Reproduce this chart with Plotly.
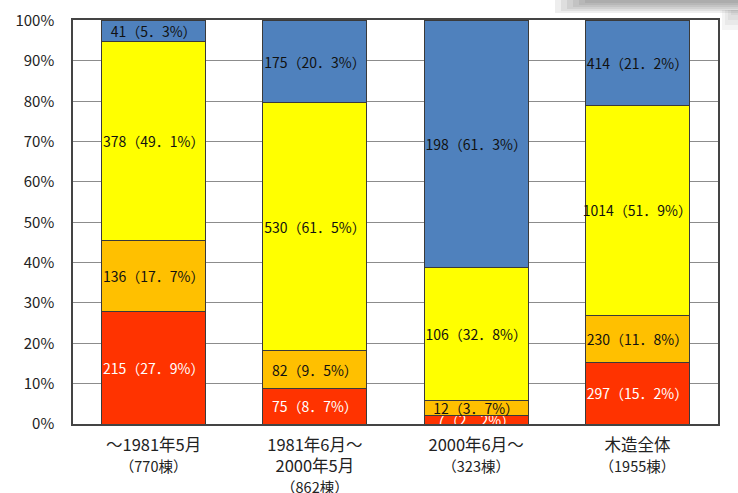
import plotly.graph_objects as go

# Building periods and counts
periods = ["～1981年5月", "1981年6月～<br>2000年5月", "2000年6月～", "木造全体"]
totals = ["770棟", "862棟", "323棟", "1955棟"]

# Damage classes, bottom to top: counts and shares (%)
red_counts = [215, 75, 7, 297]
red_pct = [27.9, 8.7, 2.2, 15.2]
orange_counts = [136, 82, 12, 230]
orange_pct = [17.7, 9.5, 3.7, 11.8]
yellow_counts = [378, 530, 106, 1014]
yellow_pct = [49.1, 61.5, 32.8, 51.9]
blue_counts = [41, 175, 198, 414]
blue_pct = [5.3, 20.3, 61.3, 21.2]

y_ticks = [0, 10, 20, 30, 40, 50, 60, 70, 80, 90, 100]

FONT = "Noto Sans CJK JP"
W, H = 738, 493
ML, MR, MT, MB = 73, 20, 20, 69
PW, PH = W - ML - MR, H - MT - MB


def fmt(count, pct):
    return f"{count}（{str(pct).replace('.', '．')}%）"


x = list(range(len(periods)))

series = [
    (red_counts, red_pct, "#FF3300", "white"),
    (orange_counts, orange_pct, "#FFC000", "#111111"),
    (yellow_counts, yellow_pct, "#FFFF00", "#111111"),
    (blue_counts, blue_pct, "#4F81BD", "#111111"),
]

fig = go.Figure()
for counts, pct, color, tcolor in series:
    fig.add_trace(go.Bar(
        x=x, y=pct,
        width=0.645,
        marker=dict(color=color, line=dict(color="#3a3a3a", width=1)),
        text=[fmt(c, p) for c, p in zip(counts, pct)],
        textposition="inside",
        insidetextanchor="middle",
        textangle=0,
        textfont=dict(family=FONT, size=14, color=tcolor),
        constraintext="none",
        cliponaxis=False,
        showlegend=False,
        hoverinfo="skip",
    ))

tick_text = [
    f"{p}<br><span style='font-size:14.5px'>（{t}）</span>"
    for p, t in zip(periods, totals)
]


def px_x(p):
    return (p - ML) / PW


def px_y(p):
    return 1 - (p - MT) / PH


# soft drop shadow along the top right edge of the page
for k in range(6):
    fig.add_shape(
        type="rect", xref="paper", yref="paper",
        x0=px_x(555 + k * 6), x1=px_x(W + 2),
        y0=px_y(13 - k * 2), y1=px_y(-2),
        fillcolor="#404040", opacity=0.09, line_width=0, layer="above",
    )
for k in range(4):
    fig.add_shape(
        type="rect", xref="paper", yref="paper",
        x0=px_x(722 + k * 3), x1=px_x(W + 2),
        y0=px_y(30 - k * 5), y1=px_y(10),
        fillcolor="#404040", opacity=0.06, line_width=0, layer="above",
    )

fig.update_layout(
    barmode="stack",
    width=W, height=H,
    margin=dict(l=ML, r=MR, t=MT, b=MB),
    paper_bgcolor="white",
    plot_bgcolor="white",
    uniformtext=dict(minsize=14, mode="show"),
    font=dict(family=FONT, color="#222222"),
    xaxis=dict(
        tickmode="array", tickvals=x, ticktext=tick_text,
        range=[-0.5, 3.5],
        showgrid=False, zeroline=False,
        showline=True, linecolor="#444444", linewidth=1.5, mirror=True,
        ticks="", ticklabelstandoff=5,
        tickfont=dict(family=FONT, size=16.5, color="#222222"),
        automargin=False,
    ),
    yaxis=dict(
        range=[0, 100.15],
        tickmode="array", tickvals=y_ticks,
        ticktext=[f"{v}%" for v in y_ticks],
        showgrid=True, gridcolor="#8c8c8c", gridwidth=1,
        zeroline=False,
        showline=True, linecolor="#444444", linewidth=1.5, mirror=True,
        ticks="", ticklabelstandoff=14,
        tickfont=dict(family=FONT, size=15, color="#222222"),
        automargin=False,
    ),
)

fig.write_html("out.html")
